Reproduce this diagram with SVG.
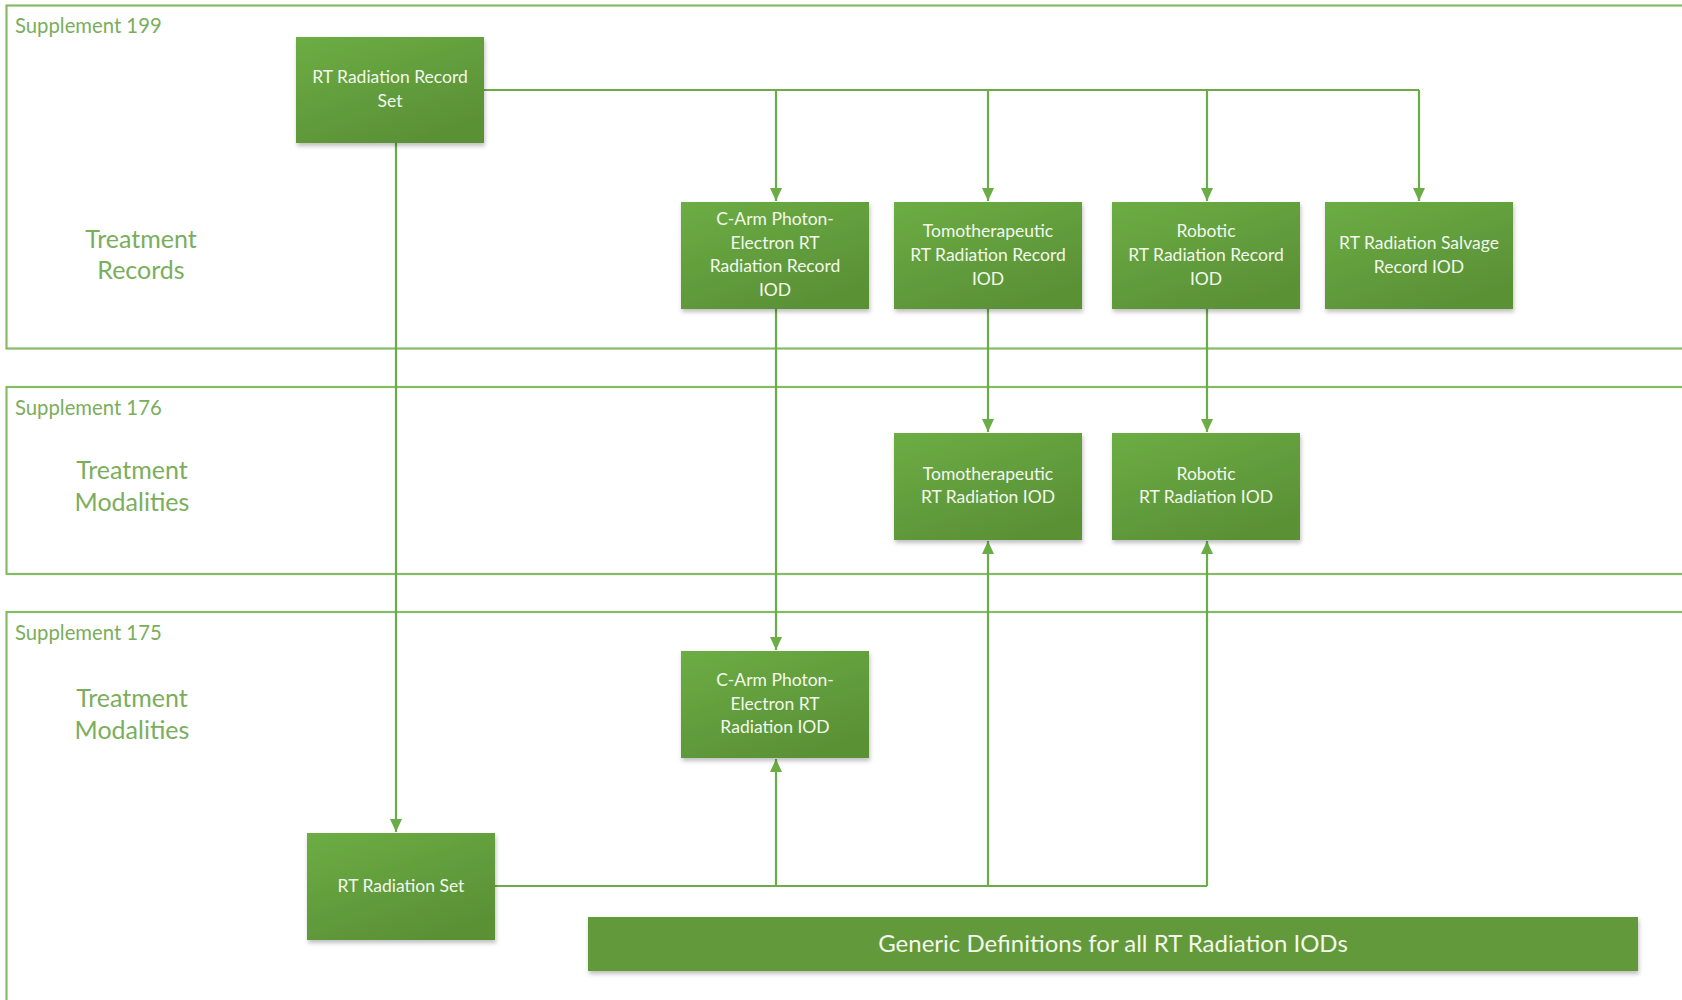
<svg xmlns="http://www.w3.org/2000/svg" width="1682" height="1000" viewBox="0 0 1682 1000">
<style>
.panel{fill:none;stroke:#86bb66;stroke-width:2.2}
.ptitle{font-family:Lato,"Liberation Sans",sans-serif;font-size:20.3px;fill:#7aae5c}
.plabel{font-family:Lato,"Liberation Sans",sans-serif;font-size:25px;fill:#7aae5c;text-anchor:middle}
.box{fill:url(#g);filter:url(#sh)}
.bt{font-family:Lato,"Liberation Sans",sans-serif;font-size:17.5px;fill:#f2f8ec;text-anchor:middle}
.conn{fill:none;stroke:#6aac46;stroke-width:2.2}
</style>
<defs>
<linearGradient id="g" x1="0" y1="0" x2="0.6" y2="1">
<stop offset="0" stop-color="#6cad44"/>
<stop offset="1" stop-color="#5a9136"/>
</linearGradient>
<filter id="sh" x="-10%" y="-10%" width="125%" height="130%">
<feDropShadow dx="1" dy="3" stdDeviation="2" flood-color="#000" flood-opacity="0.25"/>
</filter>
<marker id="ah" viewBox="0 0 13 12" refX="13" refY="6" markerWidth="13" markerHeight="12" orient="auto-start-reverse" markerUnits="userSpaceOnUse">
<path d="M0,0 L13,6 L0,12 z" fill="#6aac46"/>
</marker>
</defs>
<rect width="1682" height="1000" fill="#fff"/>

<g id="panel-199">
<rect class="panel" x="6.5" y="5.5" width="1690" height="343"/>
<text class="ptitle" x="15" y="33">Supplement 199</text>
<text class="plabel" x="141" y="248">Treatment</text>
<text class="plabel" x="141" y="279">Records</text>
</g>
<g id="panel-176">
<rect class="panel" x="6.5" y="387" width="1690" height="187"/>
<text class="ptitle" x="15" y="415">Supplement 176</text>
<text class="plabel" x="132" y="479">Treatment</text>
<text class="plabel" x="132" y="511">Modalities</text>
</g>
<g id="panel-175">
<rect class="panel" x="6.5" y="612" width="1690" height="420"/>
<text class="ptitle" x="15" y="640">Supplement 175</text>
<text class="plabel" x="132" y="707">Treatment</text>
<text class="plabel" x="132" y="739">Modalities</text>
</g>

<g id="connectors">
<path class="conn" d="M484,90 H1419"/>
<path class="conn" d="M776,90 V201" marker-end="url(#ah)"/>
<path class="conn" d="M988,90 V201" marker-end="url(#ah)"/>
<path class="conn" d="M1207,90 V201" marker-end="url(#ah)"/>
<path class="conn" d="M1419,90 V201" marker-end="url(#ah)"/>
<path class="conn" d="M396,143 V832" marker-end="url(#ah)"/>
<path class="conn" d="M776,309 V650" marker-end="url(#ah)"/>
<path class="conn" d="M988,309 V432" marker-end="url(#ah)"/>
<path class="conn" d="M1207,309 V432" marker-end="url(#ah)"/>
<path class="conn" d="M495,886 H1207"/>
<path class="conn" d="M776,886 V759" marker-end="url(#ah)"/>
<path class="conn" d="M988,886 V541" marker-end="url(#ah)"/>
<path class="conn" d="M1207,886 V541" marker-end="url(#ah)"/>
</g>

<g id="rt-radiation-record-set">
<rect class="box" x="296" y="37" width="188" height="106"/>
<text class="bt" x="390" y="83">RT Radiation Record</text>
<text class="bt" x="390" y="107">Set</text>
</g>
<g id="carm-record">
<rect class="box" x="681" y="202" width="188" height="107"/>
<text class="bt" x="775" y="225">C-Arm Photon-</text>
<text class="bt" x="775" y="249">Electron RT</text>
<text class="bt" x="775" y="272">Radiation Record</text>
<text class="bt" x="775" y="296">IOD</text>
</g>
<g id="tomo-record">
<rect class="box" x="894" y="202" width="188" height="107"/>
<text class="bt" x="988" y="237">Tomotherapeutic</text>
<text class="bt" x="988" y="261">RT Radiation Record</text>
<text class="bt" x="988" y="285">IOD</text>
</g>
<g id="robotic-record">
<rect class="box" x="1112" y="202" width="188" height="107"/>
<text class="bt" x="1206" y="237">Robotic</text>
<text class="bt" x="1206" y="261">RT Radiation Record</text>
<text class="bt" x="1206" y="285">IOD</text>
</g>
<g id="salvage-record">
<rect class="box" x="1325" y="202" width="188" height="107"/>
<text class="bt" x="1419" y="249">RT Radiation Salvage</text>
<text class="bt" x="1419" y="273">Record IOD</text>
</g>
<g id="tomo-iod">
<rect class="box" x="894" y="433" width="188" height="107"/>
<text class="bt" x="988" y="480">Tomotherapeutic</text>
<text class="bt" x="988" y="503">RT Radiation IOD</text>
</g>
<g id="robotic-iod">
<rect class="box" x="1112" y="433" width="188" height="107"/>
<text class="bt" x="1206" y="480">Robotic</text>
<text class="bt" x="1206" y="503">RT Radiation IOD</text>
</g>
<g id="carm-iod">
<rect class="box" x="681" y="651" width="188" height="107"/>
<text class="bt" x="775" y="686">C-Arm Photon-</text>
<text class="bt" x="775" y="710">Electron RT</text>
<text class="bt" x="775" y="733">Radiation IOD</text>
</g>
<g id="rt-radiation-set">
<rect class="box" x="307" y="833" width="188" height="107"/>
<text class="bt" x="401" y="892">RT Radiation Set</text>
</g>
<g id="generic-definitions">
<rect class="box" x="588" y="917" width="1050" height="54" style="fill:#62993a"/>
<text class="bt" x="1113" y="952" style="font-size:24px">Generic Definitions for all RT Radiation IODs</text>
</g>
</svg>
